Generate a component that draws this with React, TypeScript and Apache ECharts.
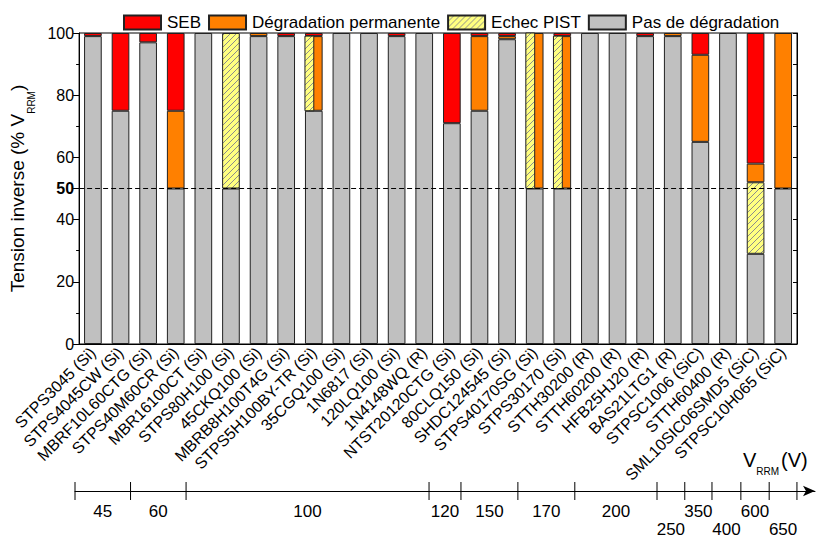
import React, { useEffect, useRef } from "react";
import * as echarts from "echarts";

const categories = [
  "STPS3045 (Si)", "STPS4045CW (Si)", "MBRF10L60CTG (Si)", "STPS40M60CR (Si)",
  "MBR16100CT (Si)", "STPS80H100 (Si)", "45CKQ100 (Si)", "MBRB8H100T4G (Si)",
  "STPS5H100BY-TR (Si)", "35CGQ100 (Si)", "1N6817 (Si)", "120LQ100 (Si)",
  "1N4148WQ (R)", "NTST20120CTG (Si)", "80CLQ150 (Si)", "SHDC124545 (Si)",
  "STPS40170SG (Si)", "STPS30170 (Si)", "STTH30200 (R)", "STTH60200 (R)",
  "HFB25HJ20 (R)", "BAS21LTG1 (R)", "STPSC1006 (SiC)", "STTH60400 (R)",
  "SML10SIC06SMD5 (SiC)", "STPSC10H065 (SiC)",
];

// % of V_RRM
const noDegradation = [99, 75, 97, 50, 100, 50, 99, 99, 75, 100, 100, 99, 100, 71, 75, 98, 50, 50, 100, 100, 99, 99, 65, 100, 29, 50];
const pistFull = [0, 0, 0, 0, 0, 50, 0, 0, 0, 0, 0, 0, 0, 0, 0, 0, 0, 0, 0, 0, 0, 0, 0, 0, 23, 0];
const permanent = [0, 0, 0, 25, 0, 0, 1, 0, 24, 0, 0, 0, 0, 0, 24, 1, 50, 49, 0, 0, 0, 1, 28, 0, 6, 50];
const seb = [1, 25, 3, 25, 0, 0, 0, 1, 1, 0, 0, 1, 0, 29, 1, 1, 0, 1, 0, 0, 1, 0, 7, 0, 42, 0];
// PIST failures sharing the same voltage range as permanent degradation (half bar)
const pistShared = [0, 0, 0, 0, 0, 0, 0, 0, 24, 0, 0, 0, 0, 0, 0, 0, 50, 49, 0, 0, 0, 0, 0, 0, 0, 0];

// V_RRM scale (in device-slot units)
const vrrmBoundaries = [0, 2, 4, 12.75, 13.9, 15.95, 18, 20.96, 21.96, 22.94, 23.98, 25, 26];
const vrrmLabels = ["45", "60", "100", "120", "150", "170", "200", "250", "350", "400", "600", "650"];
const vrrmRows = [0, 0, 0, 0, 0, 0, 0, 1, 0, 1, 0, 1];

const BAR_RATIO = 0.64;
const FONT = "Liberation Sans, Arial, sans-serif";

function makeHatch() {
  const c = document.createElement("canvas");
  c.width = 6;
  c.height = 6;
  const ctx = c.getContext("2d")!;
  ctx.fillStyle = "#ffff80";
  ctx.fillRect(0, 0, 6, 6);
  ctx.strokeStyle = "#8c8c8c";
  ctx.lineWidth = 1;
  ctx.beginPath();
  ctx.moveTo(-1, 7);
  ctx.lineTo(7, -1);
  ctx.moveTo(-1, 1);
  ctx.lineTo(1, -1);
  ctx.moveTo(5, 7);
  ctx.lineTo(7, 5);
  ctx.stroke();
  return c;
}

const nz = (v: number) => (v === 0 ? "-" : v);

export default function App() {
  const ref = useRef<HTMLDivElement>(null);
  useEffect(() => {
    if (!ref.current) return;
    const chart = echarts.init(ref.current, undefined, { renderer: "svg" });
    const hatch: any = { image: makeHatch(), repeat: "repeat" };
    const border = { borderColor: "#222", borderWidth: 1 };

    const sharedData = pistShared
      .map((v, i) => (v ? [i, noDegradation[i] + pistFull[i], noDegradation[i] + pistFull[i] + v] : null))
      .filter(Boolean);

    const labelData = vrrmLabels.map((l, i) => [
      (vrrmBoundaries[i] + vrrmBoundaries[i + 1]) / 2,
      vrrmRows[i] ? -4.3 : -2.3,
      l,
    ]);

    const option: any = {
      animation: false,
      textStyle: { fontFamily: FONT, color: "#000" },
      legend: {
        data: ["SEB", "Dégradation permanente", "Echec PIST", "Pas de dégradation"],
        left: 118,
        top: 9,
        icon: "rect",
        itemWidth: 37,
        itemHeight: 14,
        itemGap: 7,
        selectedMode: false,
        textStyle: { fontSize: 17, color: "#000", padding: [0, 0, 0, 1] },
      },
      grid: [
        { left: 77, top: 33, width: 720, height: 311, show: true, borderColor: "#000", borderWidth: 1, backgroundColor: "transparent" },
        { left: 75, top: 482, width: 740, height: 18 },
      ],
      xAxis: [
        {
          type: "category",
          gridIndex: 0,
          data: categories,
          axisLine: { lineStyle: { color: "#000" } },
          axisTick: { alignWithLabel: true, length: 5, lineStyle: { color: "#000" } },
          axisLabel: { interval: 0, rotate: 45, fontSize: 16, color: "#000", margin: 6 },
        },
        {
          type: "value",
          gridIndex: 1,
          min: 0,
          max: 26.65,
          axisLine: { onZero: true, symbol: ["none", "arrow"], symbolSize: [8, 12], lineStyle: { color: "#000" } },
          axisTick: { show: false },
          axisLabel: { show: false },
          splitLine: { show: false },
        },
      ],
      yAxis: [
        {
          type: "value",
          gridIndex: 0,
          min: 0,
          max: 100,
          interval: 10,
          axisLine: { show: true, lineStyle: { color: "#000" } },
          axisTick: { show: true, customValues: [0, 20, 40, 50, 60, 80, 100], length: 6, lineStyle: { color: "#000" } },
          axisLabel: {
            customValues: [0, 20, 40, 50, 60, 80, 100],
            fontSize: 16,
            color: "#000",
            margin: 5,
            formatter: (v: number) => (v === 50 ? "{b|50}" : String(v)),
            rich: { b: { fontWeight: "bold", fontSize: 16, color: "#000" } },
          },
          splitLine: { show: false },
          name: "{a|Tension inverse (% V}{s|RRM}{a|)}",
          nameLocation: "middle",
          nameGap: 34,
          nameTextStyle: {
            color: "#000",
            rich: {
              a: { fontSize: 19, lineHeight: 38, color: "#000" },
              s: { fontSize: 10, lineHeight: 12, verticalAlign: "bottom", color: "#000" },
            },
          },
        },
        {
          type: "value",
          gridIndex: 0,
          position: "left",
          min: 0,
          max: 100,
          interval: 10,
          axisLine: { show: false },
          axisTick: { show: true, customValues: [10, 30, 70, 90], length: 3, lineStyle: { color: "#000" } },
          axisLabel: { show: false },
          splitLine: { show: false },
        },
        {
          type: "value",
          gridIndex: 0,
          position: "right",
          min: 0,
          max: 100,
          interval: 10,
          axisLine: { show: true, lineStyle: { color: "#000" } },
          axisTick: { show: true, inside: true, length: 4, lineStyle: { color: "#000" } },
          axisLabel: { show: false },
          splitLine: { show: false },
        },
        { type: "value", gridIndex: 1, min: -1, max: 1, show: false },
      ],
      series: [
        {
          name: "Pas de dégradation",
          type: "bar",
          stack: "a",
          barWidth: BAR_RATIO * 100 + "%",
          data: noDegradation.map(nz),
          itemStyle: { color: "#c0c0c0", ...border },
        },
        {
          name: "Echec PIST",
          type: "bar",
          stack: "a",
          data: pistFull.map(nz),
          itemStyle: { color: hatch, ...border },
        },
        {
          name: "Dégradation permanente",
          type: "bar",
          stack: "a",
          data: permanent.map(nz),
          itemStyle: { color: "#ff8000", ...border },
        },
        {
          name: "SEB",
          type: "bar",
          stack: "a",
          data: seb.map(nz),
          itemStyle: { color: "#ff0000", ...border },
        },
        {
          name: "Echec PIST",
          type: "custom",
          data: sharedData,
          encode: { x: 0, y: [1, 2] },
          itemStyle: { color: hatch, ...border },
          renderItem: (params: any, api: any) => {
            const cat = api.value(0);
            const p0 = api.coord([cat, api.value(1)]);
            const p1 = api.coord([cat, api.value(2)]);
            const bw = api.size([1, 0])[0] * BAR_RATIO;
            return {
              type: "rect",
              shape: { x: p0[0] - bw / 2, y: p1[1], width: bw / 2, height: p0[1] - p1[1] },
              style: { fill: hatch, stroke: "#222", lineWidth: 1 },
            };
          },
          markLine: {
            silent: true,
            symbol: ["none", "none"],
            label: { show: false },
            lineStyle: { color: "#000", type: [5, 3], width: 1 },
            data: [{ yAxis: 50 }],
          },
          z: 3,
        },
        {
          type: "custom",
          xAxisIndex: 1,
          yAxisIndex: 3,
          silent: true,
          data: vrrmBoundaries.map((b) => [b, 0]),
          renderItem: (params: any, api: any) => {
            const x = api.value(0);
            const p0 = api.coord([x, -1]);
            const p1 = api.coord([x, 1]);
            return {
              type: "line",
              shape: { x1: p0[0], y1: p0[1], x2: p1[0], y2: p1[1] },
              style: { stroke: "#000", lineWidth: 1 },
            };
          },
        },
        {
          type: "custom",
          xAxisIndex: 1,
          yAxisIndex: 3,
          silent: true,
          clip: false,
          data: labelData,
          encode: { x: 0, y: 1 },
          renderItem: (params: any, api: any) => {
            const p = api.coord([api.value(0), api.value(1)]);
            return {
              type: "text",
              x: p[0],
              y: p[1],
              style: {
                text: labelData[params.dataIndex][2],
                fontSize: 17,
                fontFamily: FONT,
                fill: "#000",
                align: "center",
                verticalAlign: "middle",
              },
            };
          },
        },
      ],
      graphic: [
        {
          type: "text",
          x: 743,
          y: 443,
          style: {
            text: "{v|V}{s|RRM}{v|(V)}",
            fill: "#000",
            rich: {
              v: { fontSize: 20, lineHeight: 33, fill: "#000", fontFamily: FONT },
              s: { fontSize: 10, lineHeight: 12, verticalAlign: "bottom", padding: [0, 2, 0, 0], fill: "#000", fontFamily: FONT },
            },
          },
        },
      ],
    };
    chart.setOption(option);
    return () => chart.dispose();
  }, []);
  return <div ref={ref} style={{ width: 817, height: 541, position: "absolute", left: 0, top: 0 }} />;
}
